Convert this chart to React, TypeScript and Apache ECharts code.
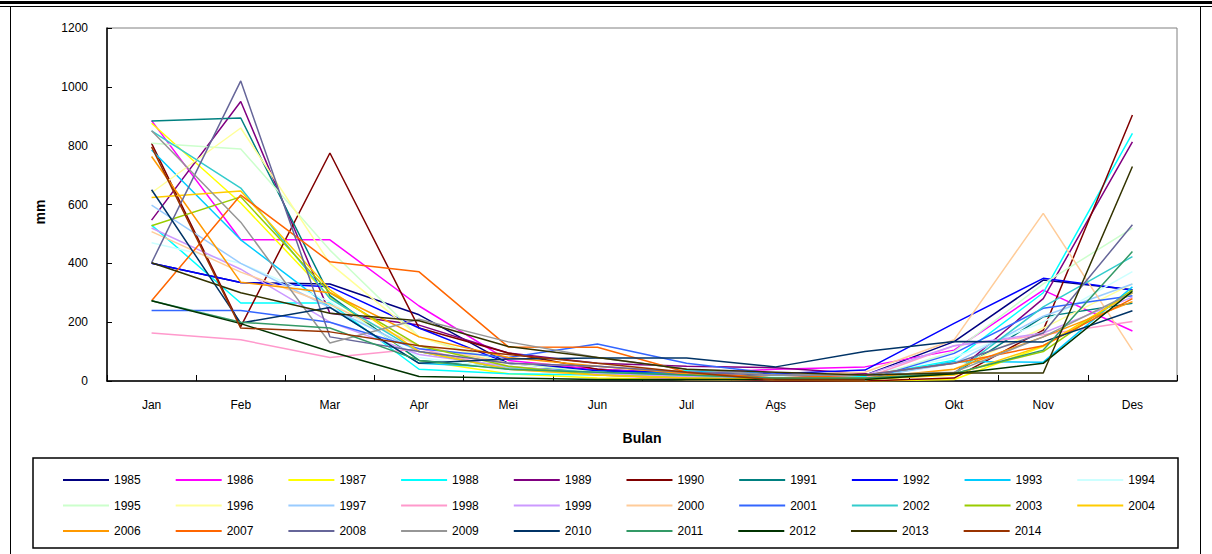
import React, { useEffect, useRef } from "react";
import * as echarts from "echarts";

const months = ["Jan", "Feb", "Mar", "Apr", "Mei", "Jun", "Jul", "Ags", "Sep", "Okt", "Nov", "Des"];
const yTicks = [0, 200, 400, 600, 800, 1000, 1200];

const years = [
  "1985", "1986", "1987", "1988", "1989", "1990", "1991", "1992", "1993", "1994",
  "1995", "1996", "1997", "1998", "1999", "2000", "2001", "2002", "2003", "2004",
  "2006", "2007", "2008", "2009", "2010", "2011", "2012", "2013", "2014",
];

const colors = [
  "#000080", "#FF00FF", "#FFFF00", "#00FFFF", "#800080", "#800000", "#008080", "#0000FF", "#00CCFF", "#CCFFFF",
  "#CCFFCC", "#FFFF99", "#99CCFF", "#FF99CC", "#CC99FF", "#FFCC99", "#3366FF", "#33CCCC", "#99CC00", "#FFCC00",
  "#FF9900", "#FF6600", "#666699", "#969696", "#003366", "#339966", "#003300", "#333300", "#993300",
];

const v1985 = [400, 335, 330, 225, 60, 40, 25, 15, 20, 134, 343, 310];
const v1986 = [885, 480, 480, 255, 70, 40, 25, 40, 48, 105, 309, 170];
const v1987 = [876, 605, 285, 70, 25, 10, 5, 3, 0, 5, 117, 300];
const v1988 = [530, 265, 265, 40, 25, 20, 35, 25, 15, 71, 300, 842];
const v1989 = [547, 950, 230, 190, 95, 60, 50, 45, 25, 25, 280, 813];
const v1990 = [808, 185, 775, 180, 95, 40, 10, 0, 0, 10, 173, 904];
const v1991 = [884, 894, 290, 70, 45, 35, 20, 15, 10, 25, 218, 264];
const v1992 = [400, 335, 320, 180, 60, 35, 30, 25, 37, 196, 349, 309];
const v1993 = [785, 480, 250, 60, 45, 30, 15, 10, 10, 66, 64, 320];
const v1994 = [470, 400, 270, 80, 40, 25, 15, 15, 20, 80, 200, 372];
const v1995 = [808, 789, 445, 150, 60, 30, 15, 5, 5, 100, 330, 520];
const v1996 = [640, 860, 400, 150, 50, 20, 10, 5, 5, 40, 180, 330];
const v1997 = [598, 400, 250, 100, 45, 25, 15, 5, 10, 60, 220, 330];
const v1998 = [163, 140, 80, 110, 40, 20, 5, 5, 10, 120, 157, 202];
const v1999 = [520, 380, 200, 90, 50, 25, 15, 10, 20, 120, 163, 285];
const v2000 = [508, 370, 260, 120, 60, 50, 30, 20, 30, 140, 570, 105];
const v2001 = [240, 240, 200, 110, 80, 126, 60, 25, 3, 94, 247, 290];
const v2002 = [850, 656, 280, 100, 40, 30, 20, 10, 10, 25, 252, 423];
const v2003 = [528, 626, 300, 120, 50, 20, 10, 5, 5, 25, 100, 310];
const v2004 = [624, 646, 310, 100, 40, 20, 10, 5, 5, 20, 120, 300];
const v2006 = [763, 336, 300, 150, 80, 50, 25, 10, 10, 40, 150, 270];
const v2007 = [273, 632, 405, 371, 116, 115, 30, 10, 20, 60, 120, 280];
const v2008 = [402, 1020, 150, 100, 60, 50, 30, 20, 20, 60, 163, 531];
const v2009 = [851, 540, 129, 210, 133, 80, 40, 20, 20, 30, 150, 300];
const v2010 = [650, 197, 250, 60, 75, 78, 78, 48, 100, 134, 133, 239];
const v2011 = [273, 200, 180, 70, 40, 30, 20, 10, 10, 25, 105, 440];
const v2012 = [273, 195, 100, 15, 10, 5, 5, 5, 5, 25, 60, 305];
const v2013 = [402, 300, 230, 205, 117, 80, 40, 30, 20, 27, 27, 729];
const v2014 = [796, 180, 167, 120, 90, 60, 30, 3, 3, null, null, null];

const seriesValues = [
  v1985, v1986, v1987, v1988, v1989, v1990, v1991, v1992, v1993, v1994,
  v1995, v1996, v1997, v1998, v1999, v2000, v2001, v2002, v2003, v2004,
  v2006, v2007, v2008, v2009, v2010, v2011, v2012, v2013, v2014,
];

export default function App() {
  const ref = useRef<HTMLDivElement>(null);
  useEffect(() => {
    document.body.style.margin = "0";
    const chart = echarts.init(ref.current as HTMLDivElement, null, { renderer: "svg" });
    const font = "'Liberation Sans', Arial, sans-serif";
    const rows = [years.slice(0, 10), years.slice(10, 20), years.slice(20)];
    chart.setOption({
      animation: false,
      backgroundColor: "#ffffff",
      color: colors,
      grid: {
        left: 107, top: 28, right: 35, bottom: 173,
        show: true, borderColor: "#808080", borderWidth: 1, backgroundColor: "transparent",
      },
      xAxis: {
        type: "category",
        data: months,
        boundaryGap: true,
        axisLine: { lineStyle: { color: "#000", width: 1.5 } },
        axisTick: { show: true, inside: true, length: 6, lineStyle: { color: "#000" } },
        axisLabel: { color: "#000", fontSize: 12, fontFamily: font, margin: 18 },
        splitLine: { show: false },
      },
      yAxis: {
        type: "value",
        min: yTicks[0],
        max: yTicks[yTicks.length - 1],
        interval: yTicks[1] - yTicks[0],
        axisLine: { show: true, lineStyle: { color: "#000", width: 1.5 } },
        axisTick: { show: true, inside: true, length: 5, lineStyle: { color: "#000" } },
        axisLabel: {
          color: "#000", fontSize: 12, fontFamily: font, margin: 19,
          formatter: (v: number) => String(v),
        },
        splitLine: { show: false },
      },
      legend: rows.map((r, i) => ({
        data: r,
        left: 58,
        top: 469 + i * 25.5,
        orient: "horizontal",
        itemWidth: 46,
        itemHeight: 2,
        itemGap: 35,
        icon: "rect",
        selectedMode: false,
        textStyle: { color: "#000", fontSize: 12, fontFamily: font },
      })),
      series: years.map((y, i) => ({
        name: y,
        type: "line",
        data: seriesValues[i],
        showSymbol: false,
        symbol: "none",
        connectNulls: false,
        lineStyle: { width: 1.5, color: colors[i] },
        itemStyle: { color: colors[i] },
      })),
      graphic: [
        { type: "rect", shape: { x: 0, y: 1, width: 1212, height: 3 }, style: { fill: "#000" } },
        { type: "rect", shape: { x: 0, y: 6, width: 1212, height: 1 }, style: { fill: "#000" } },
        { type: "line", shape: { x1: 10.5, y1: 7, x2: 10.5, y2: 554 }, style: { stroke: "#000", lineWidth: 1 } },
        { type: "line", shape: { x1: 1200.5, y1: 7, x2: 1200.5, y2: 554 }, style: { stroke: "#000", lineWidth: 1 } },
        {
          type: "rect",
          shape: { x: 33, y: 458, width: 1145, height: 90 },
          style: { fill: "transparent", stroke: "#000", lineWidth: 1.5 },
          z: -1,
        },
        {
          type: "text",
          x: 40,
          y: 212,
          rotation: Math.PI / 2,
          style: {
            text: "mm", fill: "#000", font: "bold 14px 'Liberation Sans', Arial, sans-serif",
            textAlign: "center", textVerticalAlign: "middle",
          },
        },
        {
          type: "text",
          x: 642,
          y: 438,
          style: {
            text: "Bulan", fill: "#000", font: "bold 14px 'Liberation Sans', Arial, sans-serif",
            textAlign: "center", textVerticalAlign: "middle",
          },
        },
      ],
    });
    return () => chart.dispose();
  }, []);
  return <div ref={ref} style={{ width: 1212, height: 554 }} />;
}
